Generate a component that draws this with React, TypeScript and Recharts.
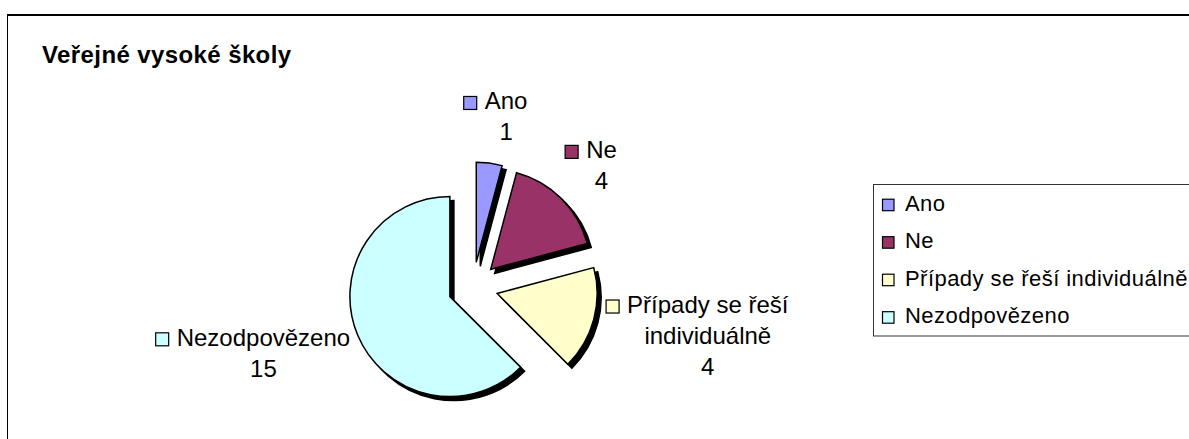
import React from 'react';
import { PieChart, Pie, Cell } from 'recharts';

const chartTitle = 'Veřejné vysoké školy';
const categories = ['Ano', 'Ne', 'Případy se řeší individuálně', 'Nezodpovězeno'];
const values = [1, 4, 4, 15];
const colors = ['#9999FF', '#993366', '#FFFFCC', '#CCFFFF'];

const data = categories.map((name, i) => ({ name, value: values[i] }));

const W = 1189;
const H = 439;
const CX = 473;
const CY = 287;
const RADIUS = 100;
const EXPLODE = 25;
const FONT = "'Liberation Sans', Arial, sans-serif";
const LABEL_SIZE = 24;
const LINE_H = 31;
const LEGEND_SIZE = 22;
const RAD = Math.PI / 180;

let ctx: CanvasRenderingContext2D | null = null;
function measure(text: string, size: number, bold = false): number {
  if (!ctx && typeof document !== 'undefined') {
    ctx = document.createElement('canvas').getContext('2d');
  }
  if (ctx) {
    ctx.font = `${bold ? 'bold ' : ''}${size}px ${FONT}`;
    return ctx.measureText(text).width;
  }
  return text.length * size * 0.55;
}

function wrap(text: string, size: number, maxW: number): string[] {
  const words = text.split(' ');
  const lines: string[] = [];
  let cur = '';
  for (const w of words) {
    const t = cur ? cur + ' ' + w : w;
    if (cur && measure(t, size) > maxW) {
      lines.push(cur);
      cur = w;
    } else {
      cur = t;
    }
  }
  if (cur) lines.push(cur);
  return lines;
}

const total = values.reduce((a, b) => a + b, 0);
const midAngles = values.map((v, i) => {
  const before = values.slice(0, i).reduce((a, b) => a + b, 0);
  return 90 - ((before + v / 2) / total) * 360;
});

const makeLabel = (sel: number) => (p: any) => {
  if (p.index !== sel) return null;
  const mid = p.midAngle * RAD;
  const dx = Math.cos(mid);
  const dy = -Math.sin(mid);
  const nameLines = wrap(categories[sel], LABEL_SIZE, 200);
  const lines = [...nameLines, String(values[sel])];
  const textW = Math.max(...lines.map((l) => measure(l, LABEL_SIZE)));
  const SQ = 13;
  const GAP = 8;
  const boxW = textW + SQ + GAP;
  const boxH = lines.length * LINE_H;
  const dist = p.outerRadius + 16;
  const bcx = p.cx + dx * dist + (dx * boxW) / 2;
  const bcy = p.cy + dy * dist + (dy * boxH) / 2;
  const tcx = bcx + (SQ + GAP) / 2;
  const top = bcy - boxH / 2;
  const w0 = measure(lines[0], LABEL_SIZE);
  const base0 = top + 24;
  return (
    <g>
      <rect
        x={tcx - w0 / 2 - GAP - SQ}
        y={base0 - SQ}
        width={SQ}
        height={SQ}
        fill={colors[sel]}
        stroke="#000"
        strokeWidth={1.2}
      />
      {lines.map((l, k) => (
        <text
          key={k}
          x={tcx}
          y={base0 + k * LINE_H}
          textAnchor="middle"
          fontFamily={FONT}
          fontSize={LABEL_SIZE}
          fill="#000"
        >
          {l}
        </text>
      ))}
    </g>
  );
};

export default function App() {
  return (
    <div
      style={{
        position: 'absolute',
        left: 0,
        top: 0,
        width: W,
        height: H,
        overflow: 'hidden',
        background: '#fff',
      }}
    >
      <style>{`.recharts-sector { filter: url(#pieShadow); }`}</style>
      <svg width={0} height={0} style={{ position: 'absolute' }}>
        <defs>
          <filter id="pieShadow" x="-20%" y="-20%" width="140%" height="140%">
            <feOffset in="SourceAlpha" dx="4" dy="4" result="off" />
            <feMerge>
              <feMergeNode in="off" />
              <feMergeNode in="SourceGraphic" />
            </feMerge>
          </filter>
        </defs>
      </svg>
      <div
        style={{
          position: 'absolute',
          left: 7,
          top: 14,
          width: 1400,
          height: 600,
          borderTop: '2px solid #000',
          borderLeft: '1px solid #000',
        }}
      />
      <svg width={W} height={H} style={{ position: 'absolute', left: 0, top: 0 }}>
        <text
          x={42}
          y={63}
          fontFamily={FONT}
          fontWeight="bold"
          fontSize={24}
          letterSpacing={0.4}
          fill="#000"
        >
          {chartTitle}
        </text>
        <rect x={873.5} y={184.5} width={500} height={151.5} fill="#fff" stroke="#333" strokeWidth={1} />
        {categories.map((c, i) => {
          const base = 210.7 + i * 37.5;
          return (
            <g key={c}>
              <rect x={882.5} y={base - 11.5} width={11.5} height={11.5} fill={colors[i]} stroke="#000" strokeWidth={1.2} />
              <text
                x={905}
                y={base}
                fontFamily={FONT}
                fontSize={LEGEND_SIZE}
                letterSpacing={0.45}
                fill="#000"
              >
                {c}
              </text>
            </g>
          );
        })}
      </svg>
      <div style={{ position: 'absolute', left: 0, top: 0 }}>
        <PieChart width={W} height={H} margin={{ top: 0, right: 0, bottom: 0, left: 0 }}>
          {values.map((_, sel) => {
            const m = midAngles[sel] * RAD;
            return (
              <Pie
                key={sel}
                data={data}
                dataKey="value"
                nameKey="name"
                cx={CX + EXPLODE * Math.cos(m)}
                cy={CY - EXPLODE * Math.sin(m)}
                outerRadius={RADIUS}
                startAngle={90}
                endAngle={-270}
                isAnimationActive={false}
                label={makeLabel(sel)}
                labelLine={false}
                stroke="none"
              >
                {data.map((d, j) => (
                  <Cell
                    key={d.name}
                    fill={j === sel ? colors[j] : 'none'}
                    stroke={j === sel ? '#000' : 'none'}
                    strokeWidth={1.5}
                  />
                ))}
              </Pie>
            );
          })}
        </PieChart>
      </div>
    </div>
  );
}
